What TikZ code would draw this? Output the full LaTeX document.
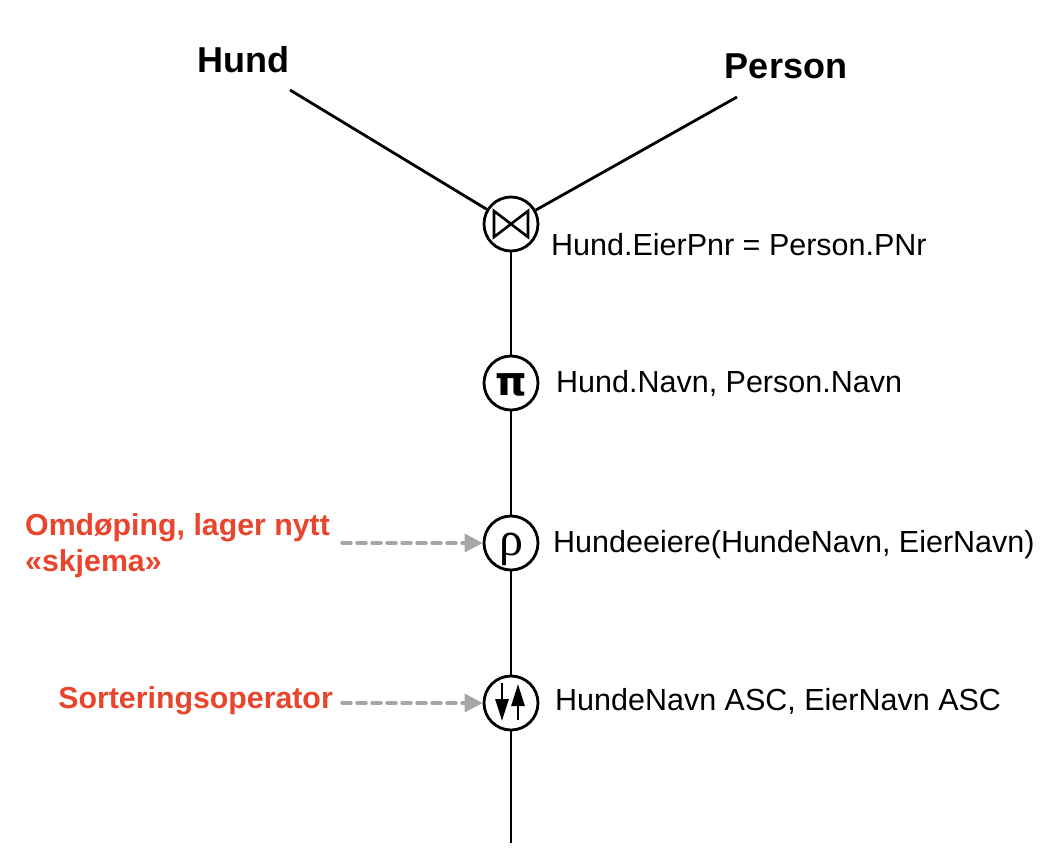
\documentclass[tikz,border=0pt]{standalone}
\usepackage{fontspec}
\setmainfont{Liberation Sans}
\newfontfamily\dejavu{DejaVu Sans}
\newfontfamily\lserif{Liberation Serif}
\usetikzlibrary{arrows.meta}
\definecolor{redtxt}{HTML}{E8452C}
\definecolor{graydash}{HTML}{A6A6A6}
\begin{document}
\begin{tikzpicture}[x=1pt,y=-1pt,
  op/.style={circle,draw,line width=2.8pt,minimum size=54pt,inner sep=0pt,fill=white},
  edge/.style={line width=2.8pt},
  lbl/.style={anchor=west,font=\fontsize{30.5}{34}\selectfont,inner sep=0pt},
  rel/.style={font=\bfseries\fontsize{36}{40}\selectfont,inner sep=0pt},
  note/.style={font=\bfseries\fontsize{30.3}{36}\selectfont,text=redtxt,inner sep=0pt},
  sortarrow/.style={line width=2.8pt,-{Triangle[length=22pt,width=13pt]}},
  hint/.style={graydash,line width=3.5pt,dash pattern=on 9pt off 6pt,line cap=round,-{Triangle[length=18pt,width=18pt,line cap=butt]}}]
\useasboundingbox (0,0) rectangle (1058,854);
\node[rel] (hund) at (243,60) {Hund};
\node[rel] (person) at (786,66) {Person};
\coordinate (hs) at (290,90);
\coordinate (ps) at (737,97);
\coordinate (bot) at (511,843);
\node[op] (join) at (511,224) {};
\node[op] (proj) at (511,383) {};
\node[op] (ren) at (511,543) {};
\node[op] (sort) at (511,703) {};
\draw[edge] (hs) -- (join);
\draw[edge] (ps) -- (join);
\draw[edge] (join) -- (proj);
\draw[edge] (proj) -- (ren);
\draw[edge] (ren) -- (sort);
\draw[edge] (sort) -- (bot);
% bowtie
\draw[line width=2.6pt,line join=miter] (494,211) -- (494,237) -- (528,211) -- (528,237) -- cycle;
\node[inner sep=0pt,font=\dejavu\bfseries\fontsize{40}{40}\selectfont] at (511,385) {π};
\node[inner sep=0pt,font=\lserif\fontsize{48}{48}\selectfont] at (511,549) {ρ};
% sort arrows
\draw[sortarrow] (502,683) -- (502,721);
\draw[sortarrow] (518,720) -- (518,684);
\node[lbl] (l1) at (551,245) {Hund.EierPnr = Person.PNr};
\node[lbl] (l2) at (556,383) {Hund.Navn, Person.Navn};
\node[lbl] (l3) at (553,545) {Hundeeiere(HundeNavn, EierNavn)};
\node[lbl] (l4) at (555,701) {HundeNavn ASC, EierNavn ASC};
\node[note,anchor=west,align=left] (n1) at (25,546) {Omdøping, lager nytt\\«skjema»};
\node[note,anchor=east] (n2) at (333,701) {Sorteringsoperator};
\coordinate (a1) at (342,543);
\coordinate (a2) at (342,703);
\draw[hint] (a1) -- (ren.west);
\draw[hint] (a2) -- (sort.west);
\end{tikzpicture}
\end{document}
